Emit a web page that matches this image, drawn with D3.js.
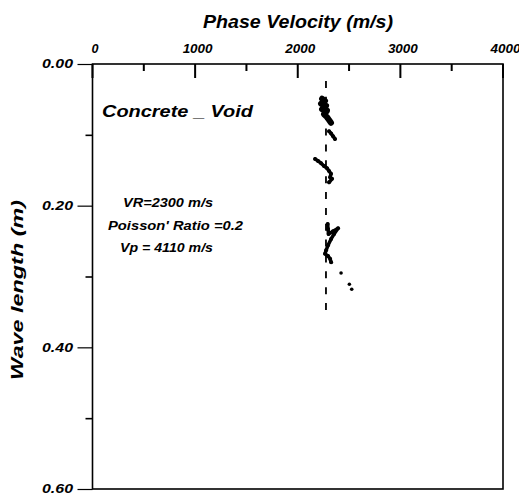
<!DOCTYPE html>
<html>
<head>
<meta charset="utf-8">
<script src="https://cdn.jsdelivr.net/npm/d3@7"></script>
<style>
  body { margin: 0; background: #fff; }
  text { font-family: "Liberation Sans", Arial, sans-serif; font-weight: bold; font-style: italic; fill: #000; }
</style>
</head>
<body>
<div id="chart"></div>
<script>
// data
var phaseVelocity = [2237, 2266, 2227, 2276, 2237, 2285, 2256, 2285, 2305, 2324,
                     2305, 2325, 2344, 2363,
                     2169, 2198, 2227, 2256, 2285, 2305, 2324, 2315, 2334, 2305,
                     2292, 2295, 2300, 2344, 2393, 2354, 2325, 2295, 2276, 2266, 2295, 2315, 2325,
                     2422, 2503, 2526];
var waveLength = [0.049, 0.052, 0.056, 0.059, 0.064, 0.066, 0.071, 0.075, 0.079, 0.083,
                  0.095, 0.098, 0.102, 0.106,
                  0.134, 0.137, 0.140, 0.144, 0.147, 0.151, 0.155, 0.160, 0.162, 0.167,
                  0.226, 0.233, 0.240, 0.236, 0.232, 0.240, 0.247, 0.256, 0.263, 0.268, 0.271, 0.275, 0.280,
                  0.295, 0.311, 0.318];
// which trace each point belongs to
var trace = [1, 1, 1, 1, 1, 1, 1, 1, 1, 1,
             2, 2, 2, 2,
             3, 3, 3, 3, 3, 3, 3, 3, 3, 3,
             4, 4, 4, 4, 4, 4, 4, 4, 4, 4, 4, 4, 4,
             5, 6, 7];

var refVelocity = 2275;
var refWave = [0.024, 0.348];

var xTicks = [0, 1000, 2000, 3000, 4000];
var xMinor = [500, 1500, 2500, 3500];
var yTicks = [0.0, 0.2, 0.4, 0.6];
var yMinor = [0.1, 0.3, 0.5];

var notes = ["VR=2300 m/s", "Poisson' Ratio =0.2", "Vp = 4110 m/s"];

var svgWidth = 519;
var svgHeight = 498;

var svg = d3.select("#chart")
  .append("svg")
  .attr("width", svgWidth)
  .attr("height", svgHeight);

var x = d3.scaleLinear().domain([0, 4000]).range([92.5, 503]);
var y = d3.scaleLinear().domain([0, 0.6]).range([64, 489]);

// top axis labels only
var topAxis = svg.append("g")
  .attr("transform", "translate(0,64)")
  .call(d3.axisTop(x).tickValues(xTicks).tickSize(0).tickPadding(11).tickFormat(d3.format("d")));
topAxis.select(".domain").remove();
topAxis.selectAll("text")
  .attr("font-size", 12.5)
  .attr("textLength", d => d == 0 ? 7 : 30)
  .attr("lengthAdjust", "spacingAndGlyphs")
  .attr("dx", 2);

// left axis, ticks pointing out
var leftAxis = svg.append("g")
  .attr("transform", "translate(92.5,0)")
  .call(d3.axisLeft(y).tickValues(yTicks).tickSize(15).tickPadding(4.5).tickFormat(d3.format(".2f")));
leftAxis.select(".domain").remove();
leftAxis.selectAll("line").attr("stroke-width", 1.2);
leftAxis.selectAll("text")
  .attr("font-size", 12)
  .attr("textLength", 31)
  .attr("lengthAdjust", "spacingAndGlyphs");

var leftMinor = svg.append("g")
  .attr("transform", "translate(92.5,0)")
  .call(d3.axisLeft(y).tickValues(yMinor).tickSize(7).tickFormat(""));
leftMinor.select(".domain").remove();
leftMinor.selectAll("line").attr("stroke-width", 1.6);

// frame
svg.append("rect")
  .attr("x", x(0))
  .attr("y", y(0))
  .attr("width", x(4000) - x(0))
  .attr("height", y(0.6) - y(0))
  .attr("fill", "none")
  .attr("stroke", "#000")
  .attr("stroke-width", 1.6);

// dashed reference line at VR
svg.append("line")
  .attr("x1", x(refVelocity))
  .attr("x2", x(refVelocity))
  .attr("y1", y(refWave[0]))
  .attr("y2", y(refWave[1]))
  .attr("stroke", "#000")
  .attr("stroke-width", 1.8)
  .attr("stroke-dasharray", "7,8.86");

// measured points
var points = phaseVelocity.map((v, i) => ({v: v, w: waveLength[i], t: trace[i]}));
var groups = d3.groups(points, d => d.t);

var traceLine = d3.line()
  .x(d => x(d.v))
  .y(d => y(d.w));

svg.append("g")
  .selectAll("path")
  .data(groups.filter(g => g[1].length > 1))
  .enter()
  .append("path")
  .attr("d", g => traceLine(g[1]))
  .attr("fill", "none")
  .attr("stroke", "#000")
  .attr("stroke-width", g => g[0] == 1 ? 6 : 3.5)
  .attr("stroke-linecap", "round")
  .attr("stroke-linejoin", "round");

svg.append("g")
  .selectAll("circle")
  .data(points)
  .enter()
  .append("circle")
  .attr("cx", d => x(d.v))
  .attr("cy", d => y(d.w))
  .attr("r", d => d.t >= 5 ? 1.8 : 2)
  .attr("fill", "#000");

// titles
svg.append("text")
  .attr("x", 298)
  .attr("y", 27.5)
  .attr("text-anchor", "middle")
  .attr("font-size", 18)
  .attr("textLength", 190)
  .attr("lengthAdjust", "spacingAndGlyphs")
  .text("Phase Velocity (m/s)");

svg.append("text")
  .attr("transform", "translate(23,290) rotate(-90)")
  .attr("text-anchor", "middle")
  .attr("font-size", 17)
  .attr("textLength", 180)
  .attr("lengthAdjust", "spacingAndGlyphs")
  .text("Wave length (m)");

svg.append("text")
  .attr("x", 102)
  .attr("y", 117)
  .attr("font-size", 17)
  .attr("textLength", 151)
  .attr("lengthAdjust", "spacingAndGlyphs")
  .text("Concrete _ Void");

var noteX = [123, 108, 120];
var noteY = [207, 230, 252];
var noteW = [90, 135, 93];
svg.append("g")
  .selectAll("text")
  .data(notes)
  .enter()
  .append("text")
  .attr("x", (d, i) => noteX[i])
  .attr("y", (d, i) => noteY[i])
  .attr("font-size", 12.5)
  .attr("textLength", (d, i) => noteW[i])
  .attr("lengthAdjust", "spacingAndGlyphs")
  .text(d => d);

// top ticks pointing down into the plot, drawn last as filled rects
var topTicks = xTicks.map(d => ({v: d, len: 14})).concat(xMinor.map(d => ({v: d, len: 7})));
svg.append("g")
  .selectAll("rect")
  .data(topTicks)
  .enter()
  .append("rect")
  .attr("x", d => x(d.v) - 1)
  .attr("y", y(0))
  .attr("width", 2)
  .attr("height", d => d.len)
  .attr("fill", "#000");
</script>
</body>
</html>
